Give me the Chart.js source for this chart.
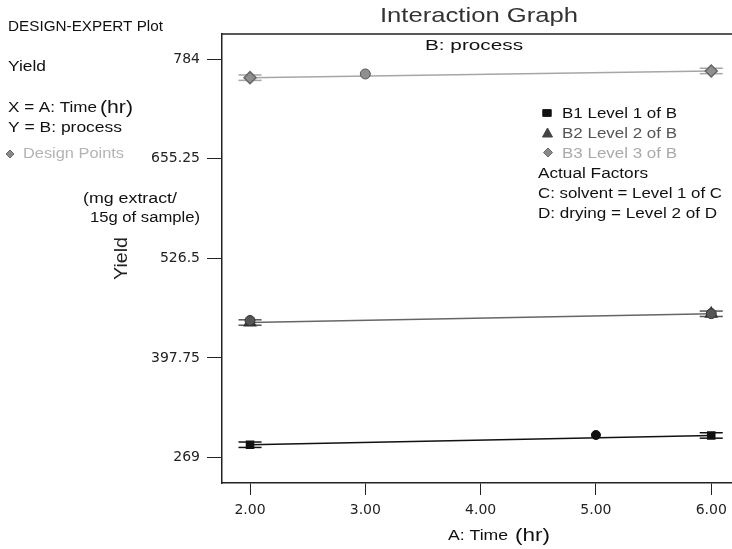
<!DOCTYPE html>
<html>
<head>
<meta charset="utf-8">
<title>Interaction Graph</title>
<script src="https://cdn.jsdelivr.net/npm/chart.js@4.4.0/dist/chart.umd.min.js"></script>
<style>
  html, body { margin: 0; padding: 0; background: #fff; overflow: hidden; }
  #chart { display: block; }
</style>
</head>
<body>
<canvas id="chart" width="732" height="549"></canvas>
<script>
// data
const timeLevels = [2, 6];
const b1Yield = [285.4, 297.4];
const b2Yield = [443.5, 454.8];
const b3Yield = [760.2, 768.9];

// design points
const dpB1Time = [5];
const dpB1Yield = [298.0];
const dpB2Time = [2, 6];
const dpB2Yield = [446.0, 455.0];
const dpB3Time = [3];
const dpB3Yield = [765.0];

// LSD bar half height (yield units)
const lsdHalf = 3.5;

const yTicks = [269, 397.75, 526.5, 655.25, 784];
const yTickLabels = ['269', '397.75', '526.5', '655.25', '784'];
const xTicks = [2, 3, 4, 5, 6];
const xTickLabels = ['2.00', '3.00', '4.00', '5.00', '6.00'];

const FONT = '"Liberation Sans", Arial, sans-serif';
const AXIS_FONT = '"DejaVu Sans", sans-serif';

function toPoints(xs, ys) {
    return xs.map(function (x, i) { return { x: x, y: ys[i] }; });
}

// draw text, stretched to the given width when one is passed
function label(ctx, text, x, y, size, width, color) {
    ctx.save();
    ctx.font = size + 'px ' + FONT;
    ctx.fillStyle = color || '#111';
    ctx.textAlign = 'left';
    ctx.textBaseline = 'alphabetic';
    const w = ctx.measureText(text).width;
    ctx.translate(x, y);
    if (width) ctx.scale(width / w, 1);
    ctx.fillText(text, 0, 0);
    ctx.restore();
}

function marker(ctx, style, x, y, r, fill, stroke) {
    ctx.save();
    ctx.fillStyle = fill;
    ctx.strokeStyle = stroke || fill;
    ctx.lineWidth = 1;
    ctx.beginPath();
    if (style === 'rect') {
        ctx.rect(x - r, y - r * 0.8, r * 2, r * 1.6);
    } else if (style === 'triangle') {
        ctx.moveTo(x, y - r);
        ctx.lineTo(x + r, y + r * 0.8);
        ctx.lineTo(x - r, y + r * 0.8);
        ctx.closePath();
    } else if (style === 'diamond') {
        ctx.moveTo(x, y - r);
        ctx.lineTo(x + r, y);
        ctx.lineTo(x, y + r);
        ctx.lineTo(x - r, y);
        ctx.closePath();
    } else {
        ctx.arc(x, y, r, 0, Math.PI * 2);
    }
    ctx.fill();
    ctx.stroke();
    ctx.restore();
}

const seriesDefs = [
    { t: timeLevels, y: b1Yield, color: '#111' },
    { t: timeLevels, y: b2Yield, color: '#555' },
    { t: timeLevels, y: b3Yield, color: '#a6a6a6' }
];

// TODO: LSD bars under the end markers
const lsdBars = {
    id: 'lsdBars',
    beforeDatasetsDraw: function (chart) {
        const ctx = chart.ctx;
        const xs = chart.scales.x;
        const ys = chart.scales.y;
        ctx.save();
        ctx.lineWidth = 1.5;
        seriesDefs.forEach(function (s) {
            ctx.strokeStyle = s.color;
            s.t.forEach(function (t, i) {
                const xl = xs.getPixelForValue(t - 0.1);
                const xr = xs.getPixelForValue(t + 0.1);
                [s.y[i] - lsdHalf, s.y[i] + lsdHalf].forEach(function (v) {
                    const py = ys.getPixelForValue(v);
                    ctx.beginPath();
                    ctx.moveTo(xl, py);
                    ctx.lineTo(xr, py);
                    ctx.stroke();
                });
            });
        });
        ctx.restore();
    }
};

// TODO: frame top line and all the side texts
const annotations = {
    id: 'annotations',
    afterDraw: function (chart) {
        const ctx = chart.ctx;
        const area = chart.chartArea;

        ctx.save();
        ctx.strokeStyle = '#222';
        ctx.lineWidth = 1.5;
        ctx.beginPath();
        ctx.moveTo(area.left, area.top);
        ctx.lineTo(area.right, area.top);
        ctx.stroke();
        ctx.restore();

        // titles
        label(ctx, 'Interaction Graph', 380, 22, 21, 198, '#333');
        label(ctx, 'B: process', 425, 49.5, 14, 98, '#111');

        // left block
        label(ctx, 'DESIGN-EXPERT Plot', 8, 30.5, 14, 155);
        label(ctx, 'Yield', 8, 71, 14, 38);
        label(ctx, 'X = A: Time', 8, 111.5, 14, 89);
        label(ctx, '(hr)', 100, 112.5, 18, 33);
        label(ctx, 'Y = B: process', 8, 131.5, 14, 114);
        marker(ctx, 'diamond', 10, 154, 4, '#8a8a8a', '#6a6a6a');
        label(ctx, 'Design Points', 23, 158.3, 14, 101, '#b4b4b4');

        // y axis title
        label(ctx, '(mg extract/', 83, 203, 14, 94);
        label(ctx, '15g of sample)', 90, 221.5, 14, 110);
        ctx.save();
        ctx.translate(127, 280);
        ctx.rotate(-Math.PI / 2);
        label(ctx, 'Yield', 0, 0, 18, 43, '#222');
        ctx.restore();

        // x axis title
        label(ctx, 'A: Time', 448, 540, 14, 60);
        label(ctx, '(hr)', 515, 541, 18, 35);

        // legend
        marker(ctx, 'rect', 547, 113, 4.2, '#111');
        label(ctx, 'B1 Level 1 of B', 562, 117.7, 14, 115, '#111');
        marker(ctx, 'triangle', 547.5, 133, 5, '#444');
        label(ctx, 'B2 Level 2 of B', 562, 137.7, 14, 115, '#555');
        marker(ctx, 'diamond', 548, 152.5, 4.5, '#8a8a8a', '#6a6a6a');
        label(ctx, 'B3 Level 3 of B', 562, 157.7, 14, 115, '#aaa');
        label(ctx, 'Actual Factors', 538, 178.3, 14, 110);
        label(ctx, 'C: solvent = Level 1 of C', 538, 198.3, 14, 184);
        label(ctx, 'D: drying = Level 2 of D', 538, 217.7, 14, 179);
    }
};

const ctx = document.getElementById('chart').getContext('2d');
const interactionChart = new Chart(ctx, {
    type: 'scatter',
    data: {
        datasets: [
            {
                label: 'Design B1',
                data: toPoints(dpB1Time, dpB1Yield),
                pointStyle: 'circle',
                pointRadius: 4.5,
                backgroundColor: '#111',
                borderColor: '#111',
                borderWidth: 1
            },
            {
                label: 'Design B2',
                data: toPoints(dpB2Time, dpB2Yield),
                pointStyle: 'circle',
                pointRadius: 5,
                backgroundColor: '#555',
                borderColor: '#333',
                borderWidth: 1
            },
            {
                label: 'Design B3',
                data: toPoints(dpB3Time, dpB3Yield),
                pointStyle: 'circle',
                pointRadius: 5,
                backgroundColor: '#8f8f8f',
                borderColor: '#555',
                borderWidth: 1
            },
            {
                label: 'B1 Level 1 of B',
                data: toPoints(timeLevels, b1Yield),
                showLine: true,
                borderColor: '#111',
                borderWidth: 1.5,
                pointStyle: 'rect',
                pointRadius: 5,
                pointBackgroundColor: '#111',
                pointBorderColor: '#111'
            },
            {
                label: 'B2 Level 2 of B',
                data: toPoints(timeLevels, b2Yield),
                showLine: true,
                borderColor: '#666',
                borderWidth: 1.5,
                pointStyle: 'triangle',
                pointRadius: 6.5,
                pointBackgroundColor: '#333',
                pointBorderColor: '#333'
            },
            {
                label: 'B3 Level 3 of B',
                data: toPoints(timeLevels, b3Yield),
                showLine: true,
                borderColor: '#a6a6a6',
                borderWidth: 1.5,
                pointStyle: 'rectRot',
                pointRadius: 6,
                pointBackgroundColor: '#8f8f8f',
                pointBorderColor: '#666'
            }
        ]
    },
    options: {
        responsive: false,
        animation: false,
        layout: {
            autoPadding: false,
            padding: { top: 34, left: 0, right: 0, bottom: 0 }
        },
        scales: {
            x: {
                type: 'linear',
                min: 1.757,
                max: 6.18,
                afterBuildTicks: function (scale) {
                    scale.ticks = xTicks.map(function (v) { return { value: v }; });
                },
                afterFit: function (scale) {
                    scale.height = 66;
                    scale.paddingLeft = 0;
                    scale.paddingRight = 0;
                },
                ticks: {
                    color: '#222',
                    font: { family: AXIS_FONT, size: 14 },
                    padding: 7,
                    maxRotation: 0,
                    callback: function (value, index) {
                        return xTickLabels[index];
                    }
                },
                grid: {
                    drawOnChartArea: false,
                    drawTicks: true,
                    tickLength: 12,
                    tickColor: '#222',
                    color: '#222'
                },
                border: {
                    display: true,
                    color: '#222',
                    width: 1.5
                }
            },
            y: {
                type: 'linear',
                min: 235.9,
                max: 816.7,
                afterBuildTicks: function (scale) {
                    scale.ticks = yTicks.map(function (v) { return { value: v }; });
                },
                afterFit: function (scale) {
                    scale.width = 222;
                    scale.paddingTop = 0;
                    scale.paddingBottom = 0;
                },
                ticks: {
                    color: '#222',
                    font: { family: AXIS_FONT, size: 14 },
                    padding: 7,
                    callback: function (value, index) {
                        return yTickLabels[index];
                    }
                },
                grid: {
                    drawOnChartArea: false,
                    drawTicks: true,
                    tickLength: 15,
                    tickColor: '#222',
                    color: '#222'
                },
                border: {
                    display: true,
                    color: '#222',
                    width: 1.5
                }
            }
        },
        plugins: {
            legend: { display: false },
            tooltip: { enabled: false },
            title: { display: false }
        }
    },
    plugins: [lsdBars, annotations]
});
</script>
</body>
</html>
